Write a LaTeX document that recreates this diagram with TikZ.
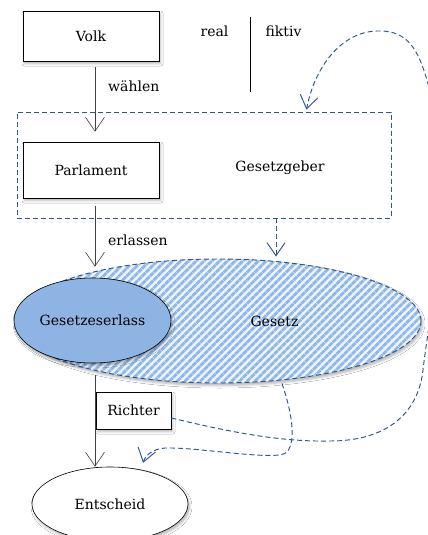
\documentclass[tikz,border=0pt]{standalone}
\usepackage{fontspec}
\setmainfont{DejaVu Serif}
\usetikzlibrary{arrows.meta,shapes.geometric,shadows.blur,patterns.meta}

\definecolor{dashblue}{HTML}{2F5597}
\definecolor{linegray}{HTML}{404040}
\definecolor{erlassfill}{HTML}{8EB4E3}
\definecolor{hatchfg}{HTML}{8FB7E8}
\definecolor{hatchbg}{HTML}{EEF4FC}

\begin{document}
\begin{tikzpicture}[x=1pt,y=-1pt,
  every node/.style={font=\fontsize{14}{16}\selectfont},
  softshadow/.style={blur shadow={shadow xshift=1.5pt,shadow yshift=-2.5pt,
      shadow blur radius=2.5pt,shadow opacity=30}},
  card/.style={rectangle,draw=black,line width=0.6pt,fill=white,inner sep=0pt,softshadow},
  oval/.style={ellipse,draw=black,line width=0.6pt,inner sep=0pt,softshadow},
  conn/.style={draw=linegray,line width=0.6pt,
      -{Straight Barb[length=14pt,width=19pt,line width=0.6pt]}},
  dashline/.style={draw=dashblue,line width=0.95pt,dash pattern=on 5pt off 3pt},
  dconn/.style={dashline,-{Straight Barb[length=13pt,width=18pt]}},
  label/.style={inner sep=0pt}
]
\useasboundingbox (0,0) rectangle (428,535);
\clip (0,0) rectangle (428,535);
\fill[white] (0,0) rectangle (428,535);

% column positions used by the connectors
\coordinate (colx) at (95,0);
\coordinate (colg) at (276,0);
\coordinate (colt) at (306,0);
\coordinate (colb) at (282,0);
\coordinate (colc) at (142,0);

% real / fiktiv
\node[label,anchor=base] (real) at (214.5,36.7) {real};
\node[label,anchor=base] (fiktiv) at (283.5,36.7) {fiktiv};
\draw[line width=0.7pt,black] (250,17) -- (250,92);

% people and parliament
\node[card,minimum width=136pt,minimum height=50pt] (volk) at (91,36) {Volk};

\node[dashline,rectangle,minimum width=374pt,minimum height=106pt,inner sep=0pt]
  (gg) at (204,165) {};
\node[label,anchor=base] (ggtext) at (280,171.5) {Gesetzgeber};

\node[card,minimum width=136pt,minimum height=56pt] (parl) at (91,170) {Parlament};

% law
\node[ellipse,minimum width=406pt,minimum height=124pt,inner sep=0pt,softshadow,
  preaction={fill=hatchbg},
  pattern={Lines[angle=45,distance=5.5pt,line width=2.8pt]},pattern color=hatchfg,
  dashline] (gesetz) at (218,321) {};
\node[label] (gesetztext) at (274.5,321) {Gesetz};

\node[oval,fill=erlassfill,minimum width=157pt,minimum height=85pt]
  (erlass) at (92.5,320.5) {Gesetzeserlass};

% judge and decision
\node[card,minimum width=75pt,minimum height=37pt] (richter) at (133.5,410.5) {Richter};
\node[oval,fill=white,minimum width=156pt,minimum height=74pt]
  (entscheid) at (110,504) {Entscheid};
\draw[conn,shorten <=12pt] (erlass.south -| colx) -- (entscheid.north -| colx);

% real connectors
\draw[conn,shorten <=6pt,shorten >=10pt] (volk.south -| colx) -- (parl.north -| colx);
\node[label,anchor=base west] (waehlen) at (108,91.5) {wählen};
\draw[conn,shorten <=8pt,shorten >=11pt] (parl.south -| colx) -- (erlass.north -| colx);
\node[label,anchor=base west] (erlassen) at (108,245.5) {erlassen};

% fictive connectors
\draw[dconn,shorten >=2pt] (gg.south -| colg) -- (gesetz.north -| colg);

\draw[dconn,shorten >=2pt] ([yshift=-7.5pt]richter.east)
  .. controls (230,432) and (280,442) .. (330,441)
  .. controls (385,441) and (418,415) .. (423,370)
  .. controls (427,334) and (438,280) .. (438,220)
  .. controls (438,160) and (434,105) .. (427,80)
  .. controls (418,50) and (408,31) .. (380,31)
  .. controls (345,30) and (316,62) .. (gg.north -| colt);

\draw[dconn,shorten >=4pt] (gesetz.south -| colb)
  .. controls (291,410) and (297,440) .. (287,452)
  .. controls (278,462) and (200,447) .. (165,448)
  .. controls (152,449) and (145,456) .. (entscheid.north -| colc);
\end{tikzpicture}
\end{document}
